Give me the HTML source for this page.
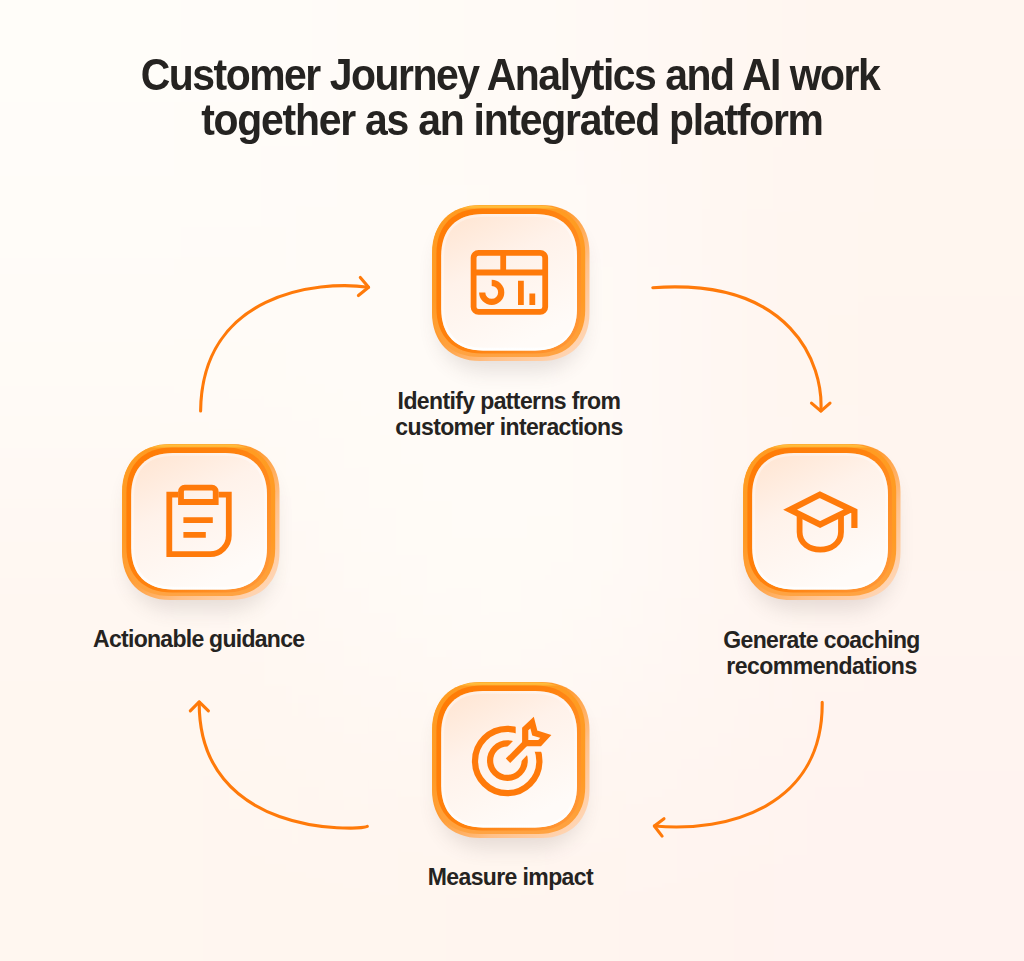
<!DOCTYPE html>
<html><head><meta charset="utf-8">
<style>
html,body{margin:0;padding:0;}
body{width:1024px;height:961px;position:relative;overflow:hidden;
 font-family:"Liberation Sans",sans-serif;color:#252321;background:#FFF8F2;}
.title{position:absolute;left:0;width:1024px;text-align:center;font-weight:700;font-size:44px;line-height:45px;white-space:nowrap;letter-spacing:-1.6px;transform:scaleX(0.93);transform-origin:511.7px 0;}
.lbl{position:absolute;text-align:center;font-weight:700;font-size:23px;line-height:26px;white-space:nowrap;width:400px;letter-spacing:-0.62px;}
svg{position:absolute;overflow:visible;}
</style></head><body>
<svg width="1024" height="961" style="left:0;top:0" viewBox="0 0 1024 961">
 <defs>
  <filter id="blur" x="-40%" y="-40%" width="180%" height="180%"><feGaussianBlur stdDeviation="10"/></filter>
  <linearGradient id="rim" x1="0" y1="0" x2="1" y2="1">
   <stop offset="0" stop-color="#FFA21C"/><stop offset="0.45" stop-color="#FF9A30"/><stop offset="0.68" stop-color="#FFC088"/><stop offset="1" stop-color="#FFDCC2"/>
  </linearGradient>
  <linearGradient id="band" x1="0" y1="0" x2="0" y2="156" gradientUnits="userSpaceOnUse">
   <stop offset="0" stop-color="#FFC444"/><stop offset="0.016" stop-color="#FFB838"/><stop offset="0.028" stop-color="#FF9C22"/><stop offset="0.6" stop-color="#FF9A24"/><stop offset="1" stop-color="#FFA445"/>
  </linearGradient>
  <linearGradient id="band2" x1="0" y1="0.2" x2="1" y2="0.8">
   <stop offset="0" stop-color="#FF7C06"/><stop offset="0.5" stop-color="#FF820E"/><stop offset="1" stop-color="#FF9634"/>
  </linearGradient>
  <linearGradient id="face" x1="0" y1="0" x2="0.5" y2="1">
   <stop offset="0" stop-color="#FFE4D0"/><stop offset="0.45" stop-color="#FFF2EA"/><stop offset="1" stop-color="#FFFBF8"/>
  </linearGradient>
  <filter id="bgblur" x="-300" y="-300" width="1624" height="1561" filterUnits="userSpaceOnUse"><feGaussianBlur stdDeviation="110"/></filter>
  <filter id="soft" x="-10%" y="-10%" width="120%" height="120%"><feGaussianBlur stdDeviation="0.6"/></filter>
  <linearGradient id="hl" x1="0" y1="0" x2="0" y2="1">
   <stop offset="0" stop-color="#FFFFFF" stop-opacity="0.35"/><stop offset="0.7" stop-color="#FFFFFF" stop-opacity="0.5"/><stop offset="1" stop-color="#FFFFFF" stop-opacity="0.95"/>
  </linearGradient>
  <mask id="tmask" maskUnits="userSpaceOnUse" x="0" y="0" width="1024" height="961">
 <rect x="0" y="0" width="1024" height="961" fill="#fff"/>
 <path d="M508.5 760.5 L525.4 742.5" stroke="#000" stroke-width="20" fill="none"/>
 <path d="M525.4 742.3 V728.8 L533.2 721.2 L535.2 732.8 L547 735.3 L539.6 742.3 Z" stroke="#000" stroke-width="19" fill="#000" stroke-linejoin="miter"/>
</mask>
 </defs>
 <g filter="url(#bgblur)"><rect x="-300" y="-300" width="641" height="540" fill="#FFFDF9"/><rect x="341" y="-300" width="342" height="540" fill="#FFFAF6"/><rect x="683" y="-300" width="641" height="540" fill="#FFF6F0"/><rect x="-300" y="240" width="641" height="240" fill="#FFFBF7"/><rect x="341" y="240" width="342" height="240" fill="#FFFBF8"/><rect x="683" y="240" width="641" height="240" fill="#FFF5EF"/><rect x="-300" y="480" width="641" height="240" fill="#FFF7F1"/><rect x="341" y="480" width="342" height="240" fill="#FFFCF8"/><rect x="683" y="480" width="641" height="240" fill="#FFF5F0"/><rect x="-300" y="720" width="641" height="541" fill="#FFF7F0"/><rect x="341" y="720" width="342" height="541" fill="#FFF5EF"/><rect x="683" y="720" width="641" height="541" fill="#FFF3F0"/></g>
</svg>

<svg width="1024" height="961" style="left:0;top:0" viewBox="0 0 1024 961" fill="none" stroke="#FF7A0A" stroke-width="3.1" stroke-linecap="round" stroke-linejoin="round">
 <path d="M200.6 411 C201.9 293.6 317.2 280.1 368.4 287.2"/>
 <path d="M360.3 277.4 L368.6 287.2 L358.4 295.5"/>
 <path d="M652.8 287.7 C792.1 277.7 823.6 364.3 820.9 411"/>
 <path d="M811.5 403.1 L820.9 411.2 L830 403.1"/>
 <path d="M822.2 702.2 C823.3 806.5 727.3 832.9 654.5 826"/>
 <path d="M664 818.7 L654.3 826 L662.1 836.1"/>
 <path d="M367.3 826.3 C357.8 830.6 198.3 837.2 199.2 702"/>
 <path d="M190.3 710.9 L199.2 701.9 L208.4 710.9"/>
</svg>

<svg class="tile" style="left:432px;top:205px" width="157.5" height="156" viewBox="0 0 157.5 156">
 <path d="M54.00 16.00 H103.50 C132.80 16.00 151.50 34.70 151.50 64.00 V118.00 C151.50 147.30 132.80 166.00 103.50 166.00 H54.00 C24.70 166.00 6.00 147.30 6.00 118.00 V64.00 C6.00 34.70 24.70 16.00 54.00 16.00 Z" fill="#5a4440" opacity="0.15" filter="url(#blur)"/>
 <path d="M48.00 0.00 H109.50 C138.80 0.00 157.50 18.70 157.50 48.00 V108.00 C157.50 137.30 138.80 156.00 109.50 156.00 H48.00 C18.70 156.00 0.00 137.30 0.00 108.00 V48.00 C0.00 18.70 18.70 0.00 48.00 0.00 Z" fill="url(#rim)"/>
 <path d="M47.40 0.40 H106.20 C134.90 0.40 153.20 18.70 153.20 47.40 V105.00 C153.20 133.70 134.90 152.00 106.20 152.00 H47.40 C18.70 152.00 0.40 133.70 0.40 105.00 V47.40 C0.40 18.70 18.70 0.40 47.40 0.40 Z" fill="url(#band)"/>
 <path d="M49.90 3.40 H103.40 C131.90 3.40 148.90 20.40 148.90 48.90 V102.90 C148.90 131.40 131.90 148.40 103.40 148.40 H49.90 C21.40 148.40 4.40 131.40 4.40 102.90 V48.90 C4.40 20.40 21.40 3.40 49.90 3.40 Z" fill="url(#band2)"/>
 <path d="M51.20 9.00 H103.00 C130.00 9.00 145.00 24.00 145.00 51.00 V103.60 C145.00 130.60 130.00 145.60 103.00 145.60 H51.20 C24.20 145.60 9.20 130.60 9.20 103.60 V51.00 C9.20 24.00 24.20 9.00 51.20 9.00 Z" fill="url(#face)"/>
 <path d="M51.20 10.40 H103.00 C129.20 10.40 143.60 24.80 143.60 51.00 V103.50 C143.60 129.70 129.20 144.10 103.00 144.10 H51.20 C25.00 144.10 10.60 129.70 10.60 103.50 V51.00 C10.60 24.80 25.00 10.40 51.20 10.40 Z" fill="none" stroke="url(#hl)" stroke-width="2.8" filter="url(#soft)"/>
 
 <g transform="translate(-432 -205)" fill="none" stroke="#FF7A0A" stroke-width="5.8"><rect x="473.6" y="252.8" width="71.6" height="59.1" rx="5"/>
<path d="M473.6 272.5 H545.2 M503.2 252.8 V272.5"/>
<path d="M491.7 282.9 A9.5 9.5 0 1 1 482.2 292.4" stroke-width="6.2"/>
<path d="M520.9 280.7 V305 M532.3 293.5 V305"/></g>
</svg>
<svg class="tile" style="left:743.4px;top:444px" width="157.5" height="156" viewBox="0 0 157.5 156">
 <path d="M54.00 16.00 H103.50 C132.80 16.00 151.50 34.70 151.50 64.00 V118.00 C151.50 147.30 132.80 166.00 103.50 166.00 H54.00 C24.70 166.00 6.00 147.30 6.00 118.00 V64.00 C6.00 34.70 24.70 16.00 54.00 16.00 Z" fill="#5a4440" opacity="0.15" filter="url(#blur)"/>
 <path d="M48.00 0.00 H109.50 C138.80 0.00 157.50 18.70 157.50 48.00 V108.00 C157.50 137.30 138.80 156.00 109.50 156.00 H48.00 C18.70 156.00 0.00 137.30 0.00 108.00 V48.00 C0.00 18.70 18.70 0.00 48.00 0.00 Z" fill="url(#rim)"/>
 <path d="M47.40 0.40 H106.20 C134.90 0.40 153.20 18.70 153.20 47.40 V105.00 C153.20 133.70 134.90 152.00 106.20 152.00 H47.40 C18.70 152.00 0.40 133.70 0.40 105.00 V47.40 C0.40 18.70 18.70 0.40 47.40 0.40 Z" fill="url(#band)"/>
 <path d="M49.90 3.40 H103.40 C131.90 3.40 148.90 20.40 148.90 48.90 V102.90 C148.90 131.40 131.90 148.40 103.40 148.40 H49.90 C21.40 148.40 4.40 131.40 4.40 102.90 V48.90 C4.40 20.40 21.40 3.40 49.90 3.40 Z" fill="url(#band2)"/>
 <path d="M51.20 9.00 H103.00 C130.00 9.00 145.00 24.00 145.00 51.00 V103.60 C145.00 130.60 130.00 145.60 103.00 145.60 H51.20 C24.20 145.60 9.20 130.60 9.20 103.60 V51.00 C9.20 24.00 24.20 9.00 51.20 9.00 Z" fill="url(#face)"/>
 <path d="M51.20 10.40 H103.00 C129.20 10.40 143.60 24.80 143.60 51.00 V103.50 C143.60 129.70 129.20 144.10 103.00 144.10 H51.20 C25.00 144.10 10.60 129.70 10.60 103.50 V51.00 C10.60 24.80 25.00 10.40 51.20 10.40 Z" fill="none" stroke="url(#hl)" stroke-width="2.8" filter="url(#soft)"/>
 
 <g transform="translate(-743.4 -444)" fill="none" stroke="#FF7A0A" stroke-width="5.8"><path d="M854.8 527.9 V511.2 L820.3 494.6 L790.5 509.7 L820.5 524.6 L851 509.5" stroke-width="6.2" stroke-linejoin="miter"/>
<path d="M800 515 V532 C800 555.5 841.4 555.5 841.4 532 V515"/></g>
</svg>
<svg class="tile" style="left:122.2px;top:444.2px" width="157.5" height="156" viewBox="0 0 157.5 156">
 <path d="M54.00 16.00 H103.50 C132.80 16.00 151.50 34.70 151.50 64.00 V118.00 C151.50 147.30 132.80 166.00 103.50 166.00 H54.00 C24.70 166.00 6.00 147.30 6.00 118.00 V64.00 C6.00 34.70 24.70 16.00 54.00 16.00 Z" fill="#5a4440" opacity="0.15" filter="url(#blur)"/>
 <path d="M48.00 0.00 H109.50 C138.80 0.00 157.50 18.70 157.50 48.00 V108.00 C157.50 137.30 138.80 156.00 109.50 156.00 H48.00 C18.70 156.00 0.00 137.30 0.00 108.00 V48.00 C0.00 18.70 18.70 0.00 48.00 0.00 Z" fill="url(#rim)"/>
 <path d="M47.40 0.40 H106.20 C134.90 0.40 153.20 18.70 153.20 47.40 V105.00 C153.20 133.70 134.90 152.00 106.20 152.00 H47.40 C18.70 152.00 0.40 133.70 0.40 105.00 V47.40 C0.40 18.70 18.70 0.40 47.40 0.40 Z" fill="url(#band)"/>
 <path d="M49.90 3.40 H103.40 C131.90 3.40 148.90 20.40 148.90 48.90 V102.90 C148.90 131.40 131.90 148.40 103.40 148.40 H49.90 C21.40 148.40 4.40 131.40 4.40 102.90 V48.90 C4.40 20.40 21.40 3.40 49.90 3.40 Z" fill="url(#band2)"/>
 <path d="M51.20 9.00 H103.00 C130.00 9.00 145.00 24.00 145.00 51.00 V103.60 C145.00 130.60 130.00 145.60 103.00 145.60 H51.20 C24.20 145.60 9.20 130.60 9.20 103.60 V51.00 C9.20 24.00 24.20 9.00 51.20 9.00 Z" fill="url(#face)"/>
 <path d="M51.20 10.40 H103.00 C129.20 10.40 143.60 24.80 143.60 51.00 V103.50 C143.60 129.70 129.20 144.10 103.00 144.10 H51.20 C25.00 144.10 10.60 129.70 10.60 103.50 V51.00 C10.60 24.80 25.00 10.40 51.20 10.40 Z" fill="none" stroke="url(#hl)" stroke-width="2.8" filter="url(#soft)"/>
 
 <g transform="translate(-122.2 -444.2)" fill="none" stroke="#FF7A0A" stroke-width="5.8"><path d="M178.4 494.9 H169.5 V554.4 H210.3 A18.7 18.7 0 0 0 229 535.7 V494.9 H218.7" stroke-linejoin="miter"/>
<path d="M181.2 502.2 V491.6 A3.7 3.7 0 0 1 184.9 487.9 H212.2 A3.7 3.7 0 0 1 215.9 491.6 V502.2 Z"/>
<path d="M183.6 520.4 H213 M183.6 535.1 H206"/></g>
</svg>
<svg class="tile" style="left:432.2px;top:682px" width="157.5" height="156" viewBox="0 0 157.5 156">
 <path d="M54.00 16.00 H103.50 C132.80 16.00 151.50 34.70 151.50 64.00 V118.00 C151.50 147.30 132.80 166.00 103.50 166.00 H54.00 C24.70 166.00 6.00 147.30 6.00 118.00 V64.00 C6.00 34.70 24.70 16.00 54.00 16.00 Z" fill="#5a4440" opacity="0.15" filter="url(#blur)"/>
 <path d="M48.00 0.00 H109.50 C138.80 0.00 157.50 18.70 157.50 48.00 V108.00 C157.50 137.30 138.80 156.00 109.50 156.00 H48.00 C18.70 156.00 0.00 137.30 0.00 108.00 V48.00 C0.00 18.70 18.70 0.00 48.00 0.00 Z" fill="url(#rim)"/>
 <path d="M47.40 0.40 H106.20 C134.90 0.40 153.20 18.70 153.20 47.40 V105.00 C153.20 133.70 134.90 152.00 106.20 152.00 H47.40 C18.70 152.00 0.40 133.70 0.40 105.00 V47.40 C0.40 18.70 18.70 0.40 47.40 0.40 Z" fill="url(#band)"/>
 <path d="M49.90 3.40 H103.40 C131.90 3.40 148.90 20.40 148.90 48.90 V102.90 C148.90 131.40 131.90 148.40 103.40 148.40 H49.90 C21.40 148.40 4.40 131.40 4.40 102.90 V48.90 C4.40 20.40 21.40 3.40 49.90 3.40 Z" fill="url(#band2)"/>
 <path d="M51.20 9.00 H103.00 C130.00 9.00 145.00 24.00 145.00 51.00 V103.60 C145.00 130.60 130.00 145.60 103.00 145.60 H51.20 C24.20 145.60 9.20 130.60 9.20 103.60 V51.00 C9.20 24.00 24.20 9.00 51.20 9.00 Z" fill="url(#face)"/>
 <path d="M51.20 10.40 H103.00 C129.20 10.40 143.60 24.80 143.60 51.00 V103.50 C143.60 129.70 129.20 144.10 103.00 144.10 H51.20 C25.00 144.10 10.60 129.70 10.60 103.50 V51.00 C10.60 24.80 25.00 10.40 51.20 10.40 Z" fill="none" stroke="url(#hl)" stroke-width="2.8" filter="url(#soft)"/>
 
 <g transform="translate(-432.2 -682)" fill="none" stroke="#FF7A0A" stroke-width="5.8"><g mask="url(#tmask)">
<circle cx="507.4" cy="761" r="32.2" stroke-width="6.2"/>
<circle cx="507.6" cy="760.6" r="17.3" stroke-width="6.2"/>
</g>
<path d="M508.2 760.8 L525.8 743" stroke-width="6.2"/>
<path d="M525.4 743.2 V729 L532.3 722.6 L535 733 L546 736.4 L539.8 743.2 Z" stroke-width="6.2" stroke-linejoin="miter"/></g>
</svg>

<div class="title" style="top:51.75px;left:-1.75px">Customer Journey Analytics and AI work</div>
<div class="title" style="top:96.5px;letter-spacing:-1.34px">together as an integrated platform</div>

<div class="lbl" style="left:309px;top:388px">Identify patterns from<br>customer interactions</div>
<div class="lbl" style="left:621.5px;top:626.5px">Generate coaching<br><span style="letter-spacing:-0.52px">recommendations</span></div>
<div class="lbl" style="left:-1.3px;top:626.3px;letter-spacing:-0.72px">Actionable guidance</div>
<div class="lbl" style="left:310.4px;top:864.2px">Measure impact</div>
</body></html>
